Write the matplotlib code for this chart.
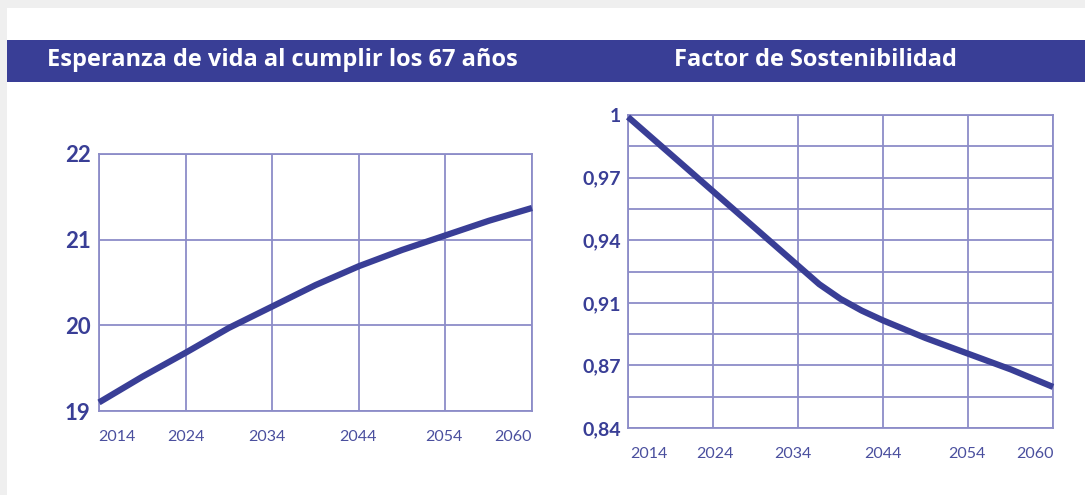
import matplotlib.pyplot as plt
from matplotlib.patches import Rectangle
import numpy as np

NAVY  = '#393e96'
GRID  = '#8c8cc8'
TICK  = '#4a4f9e'
GREY  = '#efefef'

# grid columns: 0..5, each column = one 10-year step on the printed axis
pos = [0, 0.5, 1, 1.5, 2, 2.5, 3, 3.5, 4, 4.5, 5]

# left: esperanza de vida a los 67
vida = [19.1, 19.40, 19.68, 19.97, 20.22, 20.47, 20.69, 20.88, 21.05, 21.22, 21.37]

# right: factor de sostenibilidad
pos_fs = [0, 0.5, 1, 1.5, 2, 2.25, 2.5, 2.75, 3, 3.5, 4, 4.5, 5]
factor = [0.999, 0.980, 0.961, 0.942, 0.923, 0.9135, 0.906, 0.900, 0.895, 0.886, 0.878, 0.870, 0.861]

year_labels = ['2014', '2024', '2034', '2044', '2054', '2060']
year_pos_l = [0.21, 1.0, 1.94, 2.99, 3.98, 4.78]
year_pos_r = [0.24, 1.02, 1.94, 3.0, 3.99, 4.79]

vida_ticks = [19, 20, 21, 22]
fs_ticks = [0.84, 0.872, 0.904, 0.936, 0.968, 1.0]
fs_labels = ['0,84', '0,87', '0,91', '0,94', '0,97', '1']

plt.rcParams['font.family'] = ['Lato', 'DejaVu Sans']

fig = plt.figure(figsize=(10.85, 4.95), dpi=100)
fig.patch.set_facecolor(GREY)
fig.patches.append(Rectangle((7 / 1085, 0), 1, 1 - 8 / 495, transform=fig.transFigure,
                             facecolor='white', edgecolor='none', zorder=-2))
# title band
fig.patches.append(Rectangle((7 / 1085, 1 - 82 / 495), 1, 42 / 495, transform=fig.transFigure,
                             facecolor=NAVY, edgecolor='none', zorder=-1))
fig.text(282 / 1085, 1 - 60 / 495, 'Esperanza de vida al cumplir los 67 años', color='white',
         fontsize=17, fontweight='bold', ha='center', va='center', family='Open Sans')
fig.text(815 / 1085, 1 - 60 / 495, 'Factor de Sostenibilidad', color='white',
         fontsize=17, fontweight='bold', ha='center', va='center', family='Open Sans')


def setup(ax, xlabpos):
    ax.set_facecolor('white')
    ax.set_xlim(0, 5)
    ax.xaxis.remove_overlapping_locs = False
    ax.set_xticks(range(6), minor=True)
    ax.set_xticks(xlabpos)
    ax.set_xticklabels(year_labels, fontsize=11.5, color=TICK)
    ax.grid(True, which='minor', axis='x', color=GRID, linewidth=1.3)
    ax.tick_params(which='both', length=0)
    ax.tick_params(axis='x', pad=14)
    for s in ax.spines.values():
        s.set_color(GRID)
        s.set_linewidth(1.3)


# left chart
ax1 = fig.add_axes([99 / 1085, 1 - 411 / 495, 433 / 1085, 257 / 495])
setup(ax1, year_pos_l)
ax1.set_ylim(19, 22)
ax1.set_yticks(vida_ticks)
ax1.set_yticklabels([str(v) for v in vida_ticks], fontsize=16, fontweight='bold', color=NAVY)
ax1.tick_params(axis='y', pad=6)
ax1.grid(True, which='major', axis='y', color=GRID, linewidth=1.3)
ax1.plot(pos, vida, color=NAVY, linewidth=4.5, solid_capstyle='butt', clip_on=False, zorder=3)

# right chart
ax2 = fig.add_axes([628 / 1085, 1 - 428 / 495, 425 / 1085, 313 / 495])
setup(ax2, year_pos_r)
ax2.set_ylim(0.84, 1.0)
ax2.set_yticks(np.linspace(0.84, 1.0, 11), minor=True)
ax2.set_yticks(fs_ticks)
ax2.set_yticklabels(fs_labels, fontsize=14, fontweight='bold', color=NAVY)
ax2.tick_params(axis='y', pad=5)
ax2.grid(True, which='both', axis='y', color=GRID, linewidth=1.3)
ax2.plot(pos_fs, factor, color=NAVY, linewidth=4.5, solid_capstyle='butt', clip_on=False, zorder=3)

fig.savefig('out.png', dpi=100, facecolor=fig.get_facecolor())
